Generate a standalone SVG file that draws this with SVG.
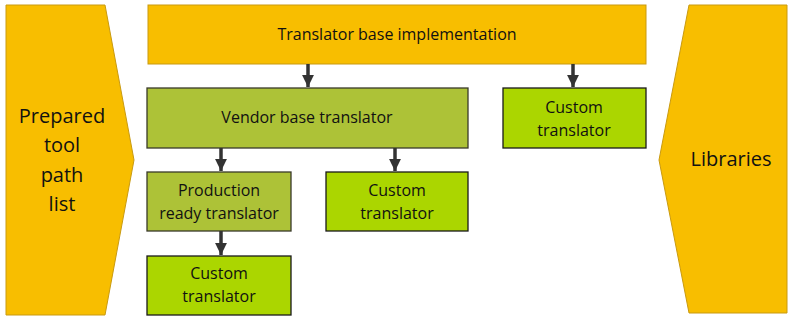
<svg xmlns="http://www.w3.org/2000/svg" width="800" height="320" viewBox="0 0 800 320">
<defs>
<style>
.orange{fill:#F8BE00;stroke:#C99A10;stroke-width:1}
.olive{fill:#ADC237;stroke:#3A3A2A;stroke-width:1.3}
.lime{fill:#ABD600;stroke:#1A1A1A;stroke-width:1.3}
text{font-family:"Open Sans","Liberation Sans",sans-serif;fill:#111;text-anchor:middle}
.t{font-size:16px}
.big{font-size:20px}
.conn line{stroke:#333;stroke-width:3.5}
</style>
<marker id="ah" viewBox="0 0 10 10" refX="10" refY="5" markerWidth="3.4" markerHeight="3.4" orient="auto" markerUnits="strokeWidth">
<path d="M0,0 L10,5 L0,10 z" fill="#333"/>
</marker>
</defs>
<g id="prepared">
<polygon class="orange" points="6,5 105,5 134,160 105,315 6,315"/>
<text class="big" x="62" y="123">Prepared</text>
<text class="big" x="62" y="152">tool</text>
<text class="big" x="62" y="182">path</text>
<text class="big" x="62" y="211">list</text>
</g>
<g id="libraries">
<polygon class="orange" points="689,5 787,5 787,313 689,313 659,160"/>
<text class="big" x="731" y="166">Libraries</text>
</g>
<g id="base">
<rect class="orange" x="148" y="5" width="498" height="59"/>
<text class="t" x="397" y="40">Translator base implementation</text>
</g>
<g id="vendor">
<rect class="olive" x="147" y="88" width="321" height="60"/>
<text class="t" x="307" y="123">Vendor base translator</text>
</g>
<g id="custom1">
<rect class="lime" x="503" y="88" width="143" height="60"/>
<text class="t" x="574" y="113">Custom</text>
<text class="t" x="574" y="136">translator</text>
</g>
<g id="production">
<rect class="olive" x="147" y="172" width="144" height="59"/>
<text class="t" x="219" y="196">Production</text>
<text class="t" x="219" y="219">ready translator</text>
</g>
<g id="custom2">
<rect class="lime" x="326" y="172" width="142" height="59"/>
<text class="t" x="397" y="196">Custom</text>
<text class="t" x="397" y="219">translator</text>
</g>
<g id="custom3">
<rect class="lime" x="147" y="256" width="144" height="59"/>
<text class="t" x="219" y="279">Custom</text>
<text class="t" x="219" y="302">translator</text>
</g>
<g id="connectors" class="conn">
<line x1="308" y1="64" x2="308" y2="87" marker-end="url(#ah)"/>
<line x1="573" y1="64" x2="573" y2="87" marker-end="url(#ah)"/>
<line x1="221" y1="148" x2="221" y2="171" marker-end="url(#ah)"/>
<line x1="395" y1="148" x2="395" y2="171" marker-end="url(#ah)"/>
<line x1="221" y1="231" x2="221" y2="255" marker-end="url(#ah)"/>
</g>
</svg>
